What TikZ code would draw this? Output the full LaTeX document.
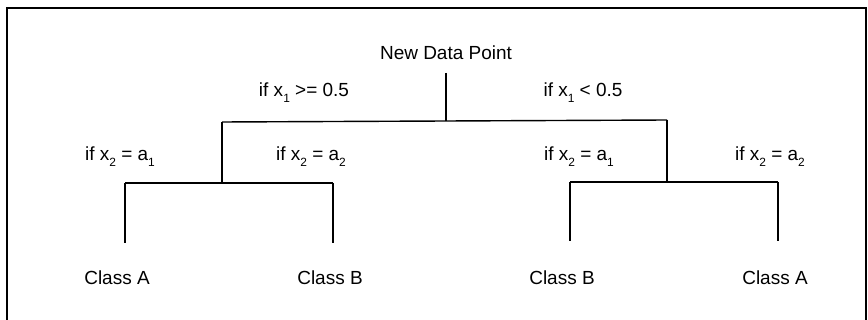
\documentclass[tikz,border=0pt]{standalone}
\usepackage{fontspec}
\setmainfont{Liberation Sans}
\usetikzlibrary{positioning}
\newcommand{\lowidx}[1]{\raisebox{-.55ex}{\fontsize{8.5}{9}\selectfont #1}}

\begin{document}
\begin{tikzpicture}[x=0.025cm,y=-0.025cm,
  lbl/.style={anchor=base,inner sep=0pt,font=\fontsize{13.5}{16}\selectfont},
  branch/.style={line width=1pt}]
  \useasboundingbox (0,0) rectangle (868,320);
  % frame
  \draw[line width=1.8pt] (7,320)--(7,8)--(866,8)--(866,320);
  % root
  \node[lbl] (root) at (446,60) {New Data Point};
  \coordinate (top) at (446,73);
  \coordinate (r) at (446,121);
  \coordinate (L) at (222,122);
  \coordinate (R) at (667,120);
  \coordinate (Lb) at (222,183);
  \coordinate (Rb) at (667,182);
  \draw[branch] (top)--(r);
  \draw[branch] (L)--(r)--(R);
  \draw[branch] (L)--(Lb);
  \draw[branch] (R)--(Rb);
  % leaves
  \coordinate (l1) at (125,183);
  \coordinate (l2) at (333,183);
  \coordinate (l3) at (570,182);
  \coordinate (l4) at (778,182);
  \draw[branch] (l1)--(Lb)--(l2);
  \draw[branch] (l3)--(Rb)--(l4);
  \coordinate (e1) at (125,243);
  \coordinate (e2) at (333,243);
  \coordinate (e3) at (570,241);
  \coordinate (e4) at (778,241);
  \draw[branch] (l1)--(e1);
  \draw[branch] (l2)--(e2);
  \draw[branch] (l3)--(e3);
  \draw[branch] (l4)--(e4);
  \node[lbl] (c1) at (117,285) {Class A};
  \node[lbl] (c2) at (330,285) {Class B};
  \node[lbl] (c3) at (562,285) {Class B};
  \node[lbl] (c4) at (775,285) {Class A};
  % conditions
  \node[lbl] (q1) at (304,97) {if x\lowidx{1} >= 0.5};
  \node[lbl] (q2) at (583,97) {if x\lowidx{1} < 0.5};
  \node[lbl] (q3) at (120,161) {if x\lowidx{2} = a\lowidx{1}};
  \node[lbl] (q4) at (311,161) {if x\lowidx{2} = a\lowidx{2}};
  \node[lbl] (q5) at (579,161) {if x\lowidx{2} = a\lowidx{1}};
  \node[lbl] (q6) at (770,161) {if x\lowidx{2} = a\lowidx{2}};
\end{tikzpicture}
\end{document}
